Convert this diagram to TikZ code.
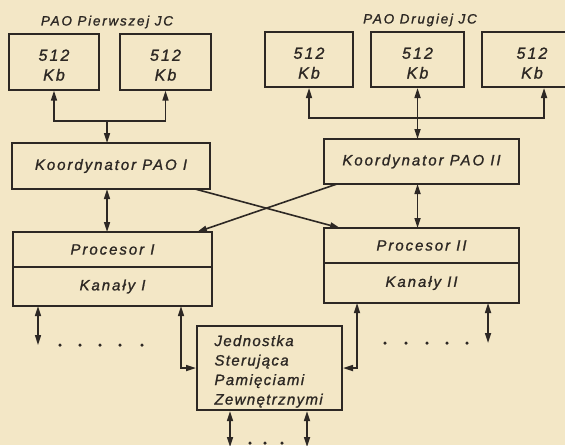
\documentclass[tikz,border=0pt]{standalone}
\usepackage{fontspec}
\setmainfont{Liberation Sans}[LetterSpace=13, FakeBold=1.2]
\usetikzlibrary{positioning,arrows.meta}
\definecolor{paoPaper}{RGB}{243,231,198}
\definecolor{paoInk}{RGB}{45,40,36}
\newcommand{\memtext}{\raisebox{-19pt}[0pt][0pt]{\shortstack{512\\[5pt]Kb}}}

\begin{document}
\begin{tikzpicture}[x=1pt, y=-1pt,
    every node/.style={font=\fontsize{15}{19.5}\selectfont\itshape, text=paoInk},
    mem/.style={draw=paoInk, line width=2pt, minimum height=56pt, align=center,
      inner sep=0pt, font=\fontsize{16}{20}\selectfont\itshape},
    unit/.style={draw=paoInk, line width=2pt, minimum width=196pt, inner sep=0pt, outer sep=0pt},
    title/.style={font=\fontsize{13.5}{15}\selectfont\itshape},
    link/.style={draw=paoInk, line width=1.6pt},
    arr/.style={link, -{Triangle[length=10pt,width=6pt]}},
    both/.style={link, {Triangle[length=10pt,width=6pt]}-{Triangle[length=10pt,width=6pt]}},
    dot/.style={circle, fill=paoInk, inner sep=0pt, minimum size=3.5pt}
  ]
    \fill[paoPaper] (0,0) rectangle (565,445);
    \useasboundingbox (0,0) rectangle (565,445);

    % memory of the first unit
    \node[title] (t1) at (107,22) {PAO Pierwszej JC};
    \node[mem, minimum width=90pt] (m1) at (54,61.5) {\memtext};
    \node[mem, minimum width=91pt, right=19pt of m1] (m2) {\memtext};

    % memory of the second unit
    \node[title] (t2) at (420,20) {PAO Drugiej JC};
    \node[mem, minimum width=88pt, minimum height=55pt] (n1) at (309,59.5) {\memtext};
    \node[mem, minimum width=93pt, minimum height=55pt, right=16pt of n1] (n2) {\memtext};
    \node[mem, minimum width=100pt, minimum height=55pt, right=16pt of n2] (n3) {\memtext};

    % coordinators
    \node[unit, minimum width=198pt, minimum height=46pt] (k1) at (111,166) {Koordynator PAO I};
    \node[unit, minimum width=195pt, minimum height=45pt] (k2) at (421.5,161.5) {Koordynator PAO II};

    % processors and channels
    \node[unit, minimum width=199pt, minimum height=35pt] (p1) at (112.5,249.5) {Procesor I};
    \node[unit, minimum width=199pt, minimum height=39pt, below=0pt of p1] (c1) {Kanały I};
    \node[unit, minimum width=195pt, minimum height=35pt] (p2) at (421.5,245.5) {Procesor II};
    \node[unit, minimum width=195pt, minimum height=40pt, below=0pt of p2] (c2) {Kanały II};

    \node[draw=paoInk, line width=2pt, minimum width=145pt, minimum height=84pt,
      text width=110pt, align=left, inner sep=0pt] (j) at (269.5,368)
      {\raisebox{-7pt}[0pt][0pt]{\parbox{110pt}{\addfontfeatures{LetterSpace=9}%
        Jednostka\\Sterująca\\Pamięciami\\Zewnętrznymi}}};

    % buses to the memories
    \coordinate (busl) at (107,121);
    \coordinate (busr) at (416,118);
    \draw[arr] (busl) -| (m1.south);
    \draw[arr] (busl) -| (m2.south);
    \draw[arr] (busl) -- (busl |- k1.north);
    \draw[arr] (busr) -| (n1.south);
    \draw[arr] (busr) -| ([xshift=12pt]n3.south);
    \draw[both] (n2.south) -- (n2.south |- k2.north);

    \draw[both] ([xshift=-4pt]k1.south) -- ([xshift=-4pt]k1.south |- p1.north);
    \draw[both] (n2.south |- k2.south) -- (n2.south |- p2.north);
    \draw[arr] ([xshift=-15pt]k1.south east) -- ([xshift=16pt]p2.north west);
    \draw[arr] ([xshift=13pt]k2.south west) -- ([xshift=-15pt]p1.north east);

    \draw[both] ([xshift=-31pt]c1.south east) |- (j.west);
    \draw[both] ([xshift=33pt]c2.south west) |- (j.east);

    % open ends
    \coordinate (e1) at (38,345);
    \coordinate (e2) at (488,343);
    \coordinate (e3) at (230,447);
    \coordinate (e4) at (307,447);
    \draw[both] (c1.south -| e1) -- (e1);
    \draw[both] (c2.south -| e2) -- (e2);
    \draw[both] (j.south -| e3) -- (e3);
    \draw[both] (j.south -| e4) -- (e4);
    \foreach \x in {60,80,100,120,142}
      \node[dot] (dl\x) at (\x,345) {};
    \foreach \x in {385,406,427,447,467}
      \node[dot] (dr\x) at (\x,343) {};
    \foreach \x in {250,265,282}
      \node[dot] (db\x) at (\x,443) {};
  \end{tikzpicture}
\end{document}
